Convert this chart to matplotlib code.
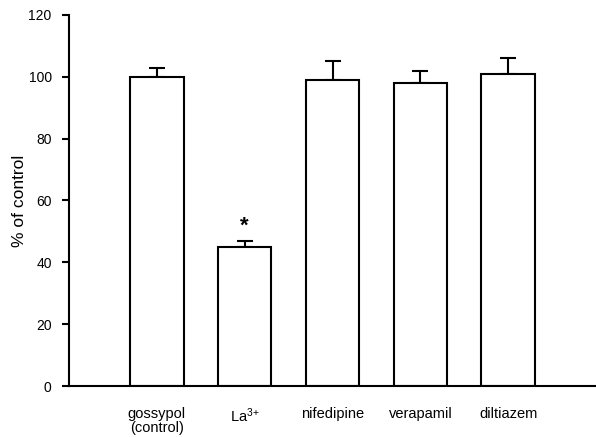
import matplotlib
matplotlib.use("Agg")
import matplotlib.pyplot as plt

# values
labels = ["gossypol\n(control)", "La$^{3{+}}$", "nifedipine", "verapamil", "diltiazem"]
values = [100, 45, 99, 98, 101]
errors = [3, 2, 6, 4, 5]
star_idx = 1

plt.rcParams["font.family"] = ["Liberation Sans", "DejaVu Sans"]
plt.rcParams["mathtext.fontset"] = "custom"
plt.rcParams["mathtext.rm"] = "Liberation Sans"
plt.rcParams["mathtext.default"] = "regular"

fig = plt.figure(figsize=(5.96, 4.37), dpi=100)
ax = fig.add_axes([0.1158, 0.1167, 0.8842, 0.849])

pos = list(range(1, len(values) + 1))
ax.bar(pos, values, width=0.61, color="white", edgecolor="black", linewidth=1.5, zorder=2)
ax.errorbar(pos, values, yerr=[[0] * len(errors), errors], fmt="none", ecolor="black",
            elinewidth=1.5, capsize=6, capthick=1.5, zorder=1)
ax.text(pos[star_idx], values[star_idx] + errors[star_idx] + 1.2, "*",
        ha="center", va="bottom", fontsize=16, fontweight="bold")

ax.set_xlim(0, 6)
ax.set_ylim(0, 120)
ax.set_yticks(range(0, 121, 20))
ax.set_xticks(pos)
ax.set_xticklabels(labels, fontsize=10.5, linespacing=1.0)
ax.tick_params(axis="x", length=0, pad=15)
ax.tick_params(axis="y", direction="out", length=5, width=1.5, labelsize=10, pad=7.5)
ax.set_ylabel("% of control", fontsize=12.5, labelpad=1)

for s in ["top", "right"]:
    ax.spines[s].set_visible(False)
ax.spines["left"].set_linewidth(1.5)
ax.spines["bottom"].set_linewidth(1.5)

fig.savefig("out.png", dpi=100)
